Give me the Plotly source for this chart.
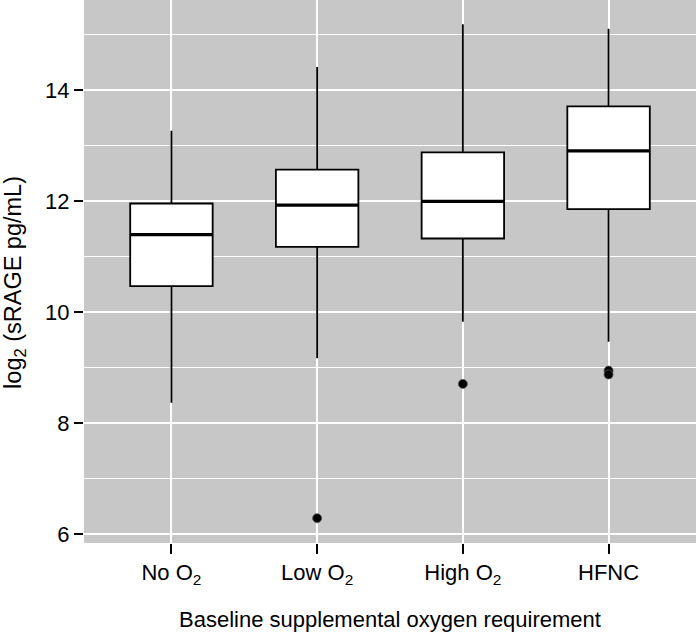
import plotly.graph_objects as go

# groups along the x axis
categories = ["No O<sub>2</sub>", "Low O<sub>2</sub>", "High O<sub>2</sub>", "HFNC"]
positions = [1, 2, 3, 4]

# box statistics, log2(sRAGE pg/mL)
q1 = [10.47, 11.18, 11.33, 11.86]
median = [11.40, 11.93, 12.00, 12.91]
q3 = [11.96, 12.57, 12.88, 13.71]
lower_whisker = [8.37, 9.17, 9.83, 9.47]
upper_whisker = [13.27, 14.42, 15.19, 15.11]

# outliers
outlier_x = [2, 3, 4, 4]
outlier_y = [6.29, 8.71, 8.95, 8.88]

box_width = 0.566
font = "Liberation Sans, Arial, Helvetica, sans-serif"

fig = go.Figure()

fig.add_trace(go.Box(
    x=positions,
    q1=q1, median=median, q3=q3,
    lowerfence=lower_whisker, upperfence=upper_whisker,
    width=box_width,
    fillcolor="white",
    line=dict(color="black", width=1.8),
    whiskerwidth=0,
    boxpoints=False,
    showlegend=False,
    hoverinfo="skip",
))

# thicker median bars, like ggplot
med_x, med_y = [], []
for p, m in zip(positions, median):
    med_x += [p - box_width / 2, p + box_width / 2, None]
    med_y += [m, m, None]
fig.add_trace(go.Scatter(
    x=med_x, y=med_y, mode="lines",
    line=dict(color="black", width=3.3),
    showlegend=False, hoverinfo="skip",
))

fig.add_trace(go.Scatter(
    x=outlier_x, y=outlier_y, mode="markers",
    marker=dict(color="black", size=9, line=dict(color="#555555", width=0.8)),
    showlegend=False,
))

fig.update_layout(
    width=696, height=632,
    margin=dict(l=84, r=0, t=0, b=89),
    plot_bgcolor="#C7C7C7",
    paper_bgcolor="white",
    font=dict(family=font, size=22, color="black"),
)

fig.update_xaxes(
    range=[0.4, 4.6],
    tickvals=positions, ticktext=categories,
    ticks="outside", ticklen=10, tickwidth=1.5, tickcolor="black",
    showgrid=True, gridcolor="white", gridwidth=2,
    zeroline=False, showline=False, automargin=False,
    title=dict(text="Baseline supplemental oxygen requirement",
               font=dict(size=22), standoff=26),
)

fig.update_yaxes(
    range=[5.843, 15.627],
    tickvals=[6, 8, 10, 12, 14],
    ticks="outside", ticklen=9, tickwidth=1.5, tickcolor="black",
    showgrid=True, gridcolor="white", gridwidth=2,
    minor=dict(dtick=1, tick0=0, showgrid=True, gridcolor="white", gridwidth=1, ticks=""),
    zeroline=False, showline=False, automargin=False,
)

# y title as a rotated annotation so it sits a little below the panel centre, as in ggplot
fig.add_annotation(
    text="log<sub>2</sub> (sRAGE pg/mL)",
    xref="paper", yref="paper", x=0, y=0.479,
    xshift=-69, xanchor="center", yanchor="middle",
    textangle=-90, showarrow=False, borderpad=0,
    font=dict(size=23.5),
)

# drop the browser's default 8px body margin so the figure sits at the page corner
fig.write_html("out.html", config={"displayModeBar": False},
               post_script="document.body.style.margin='0';")
